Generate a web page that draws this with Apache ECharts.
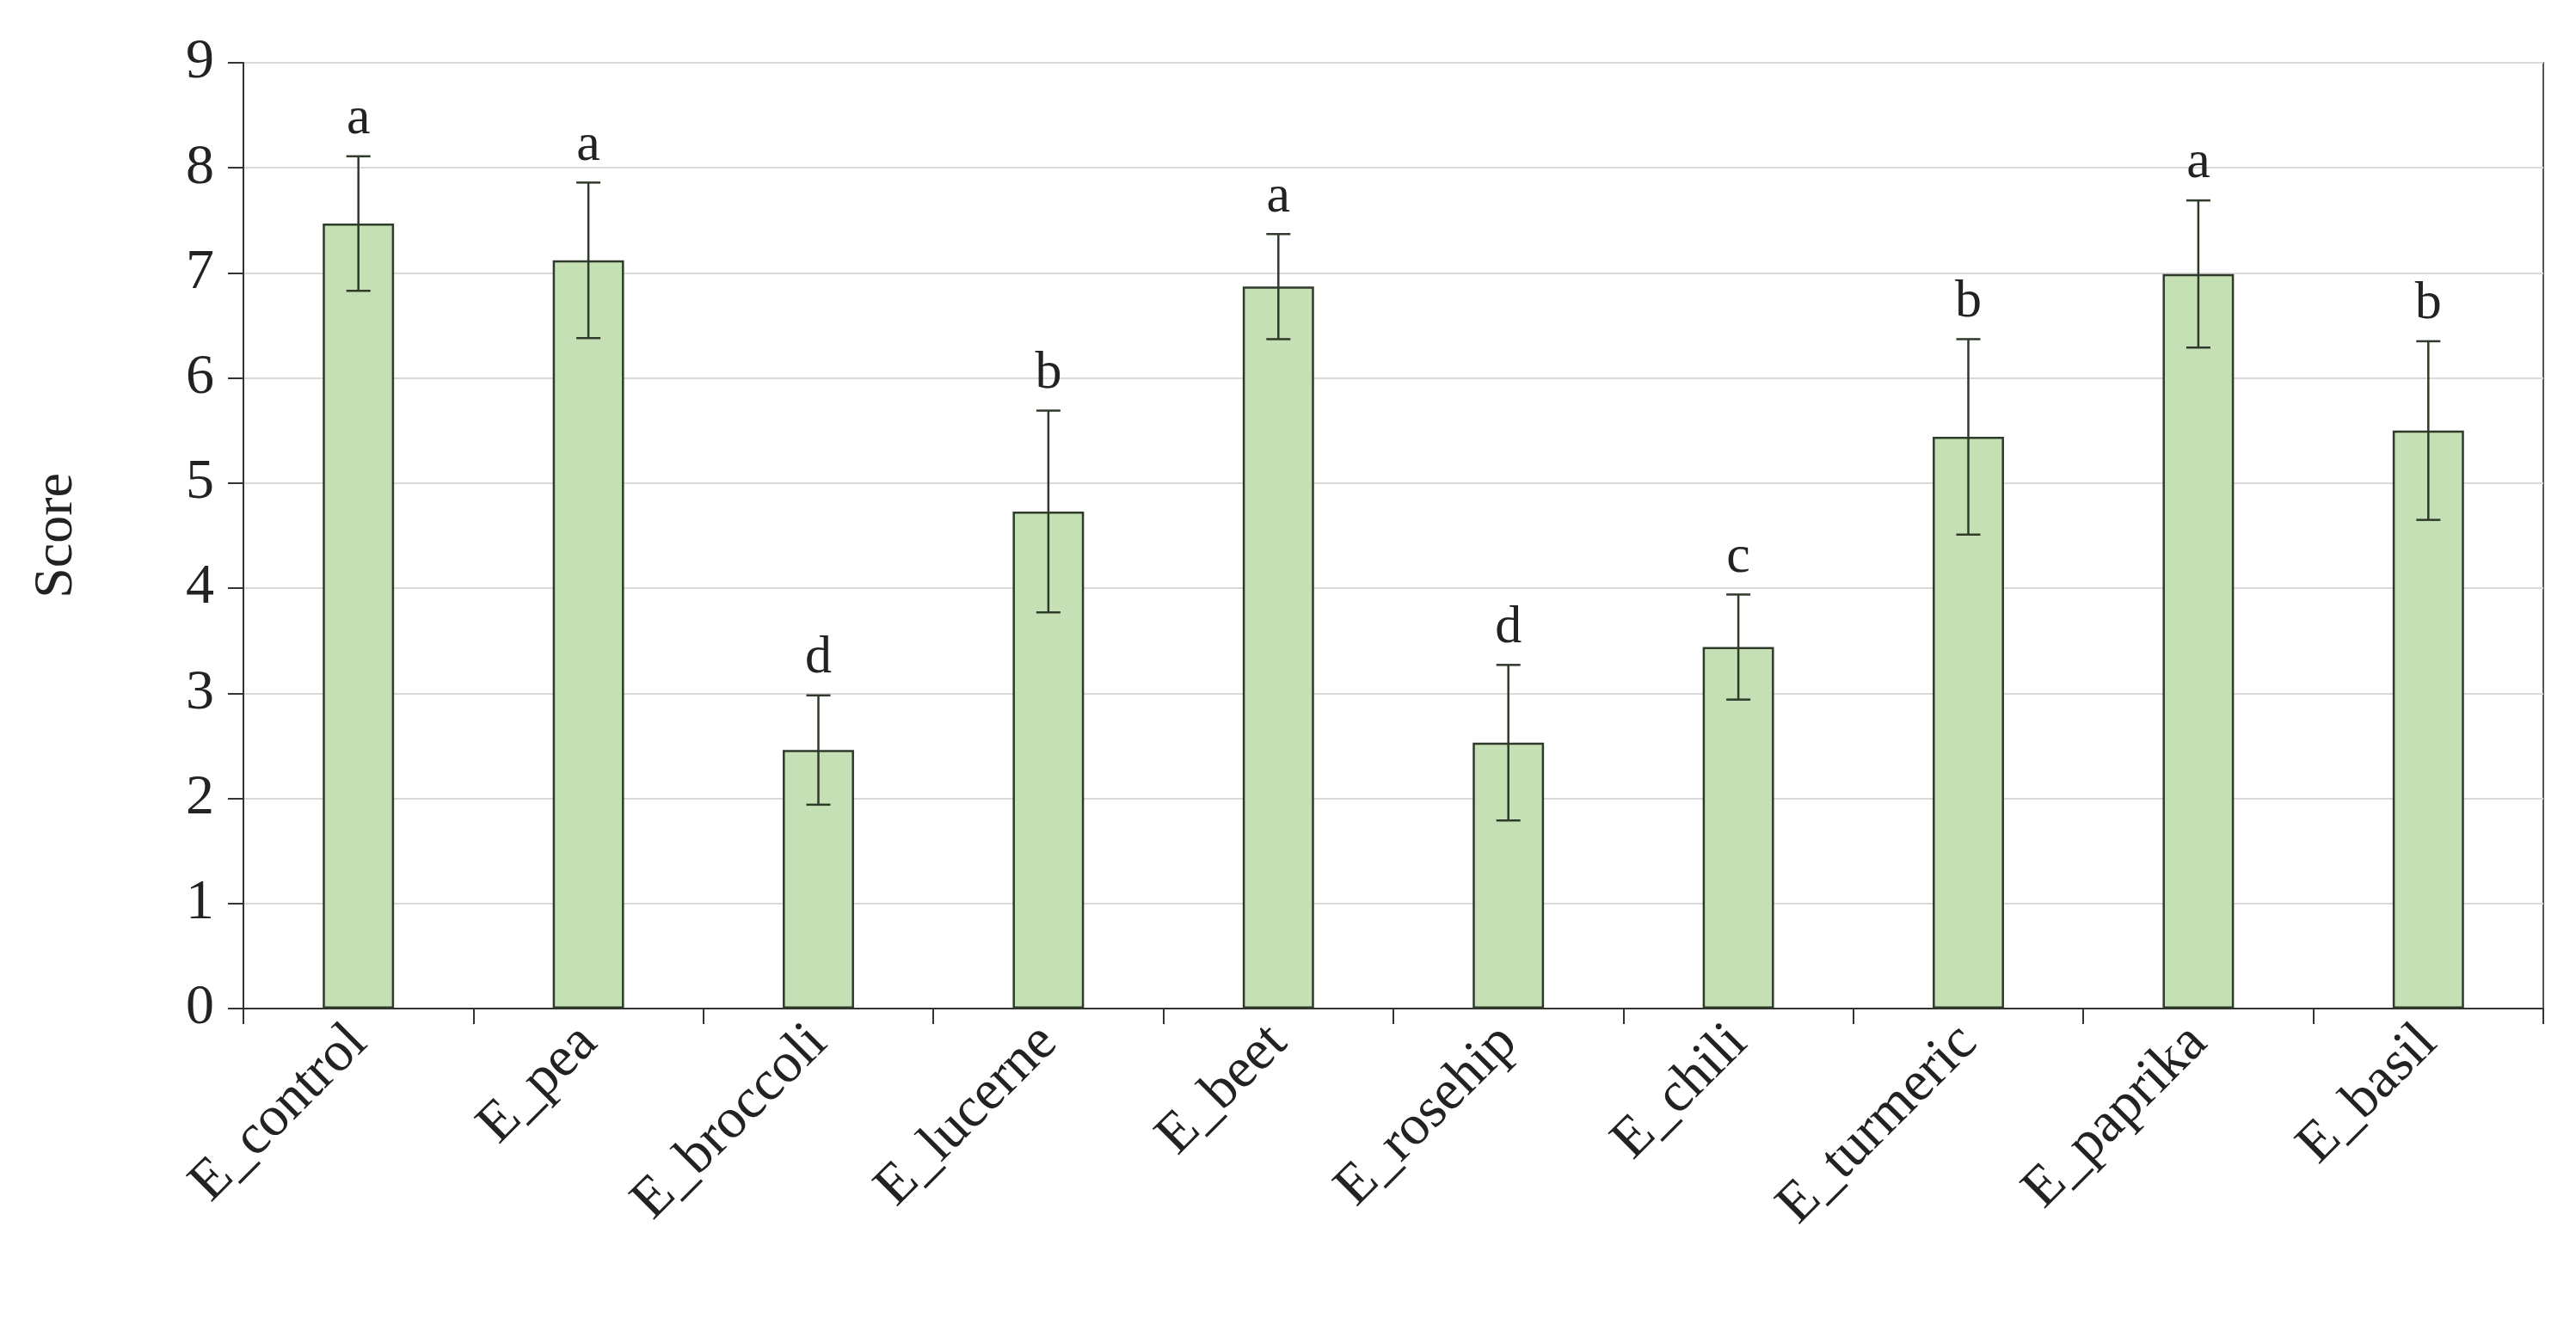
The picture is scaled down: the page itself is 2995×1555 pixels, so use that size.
<!DOCTYPE html>
<html><head><meta charset="utf-8">
<script src="https://cdn.jsdelivr.net/npm/echarts@6/dist/echarts.min.js"></script>
<style>html,body{margin:0;background:#fff}#c{width:2995px;height:1555px}</style>
</head><body><div id="c"></div>
<script>
var categories = ['E_control','E_pea','E_broccoli','E_lucerne','E_beet','E_rosehip','E_chili','E_turmeric','E_paprika','E_basil'];
var scores = [7.47, 7.12, 2.46, 4.73, 6.87, 2.53, 3.44, 5.44, 6.99, 5.5];
var errors = [0.64, 0.74, 0.52, 0.96, 0.5, 0.74, 0.5, 0.93, 0.7, 0.85];
var letters = ['a','a','d','b','a','d','c','b','a','b'];
var yTicks = [0, 1, 2, 3, 4, 5, 6, 7, 8, 9];

var font = 'Liberation Serif';
var chart = echarts.init(document.getElementById('c'));
chart.setOption({
  animation: false,
  grid: {left: 283, right: 38, top: 73, bottom: 382, show: true, borderColor: '#555', borderWidth: 2},
  xAxis: {
    type: 'category', data: categories,
    axisLine: {lineStyle: {color: '#333', width: 2}},
    axisTick: {show: true, length: 18, lineStyle: {color: '#333', width: 2}},
    axisLabel: {rotate: 45, fontFamily: font, fontSize: 66, color: '#222', margin: 30}
  },
  yAxis: {
    type: 'value', min: yTicks[0], max: yTicks[yTicks.length - 1], interval: 1,
    name: 'Score', nameLocation: 'middle', nameGap: 185,
    nameTextStyle: {fontFamily: font, fontSize: 64, color: '#222'},
    axisLine: {show: true, lineStyle: {color: '#333', width: 2}},
    axisTick: {show: true, length: 18, inside: false, lineStyle: {color: '#333', width: 2}},
    axisLabel: {fontFamily: font, fontSize: 66, color: '#222', margin: 34},
    splitLine: {lineStyle: {color: '#d9d9d9', width: 2}}
  },
  series: [{
    type: 'bar', data: scores, barWidth: '31%',
    itemStyle: {color: '#c5e0b4', borderColor: '#2f3a2b', borderWidth: 2.5}
  }, {
    type: 'custom',
    data: scores.map(function (v, i) { return [i, v, errors[i], letters[i]]; }),
    renderItem: function (params, api) {
      var x = api.value(0), v = api.value(1), e = api.value(2);
      var hi = api.coord([x, v + e]), lo = api.coord([x, v - e]);
      var w = 14;
      var st = {stroke: '#2f3a2b', lineWidth: 2.5};
      return {type: 'group', children: [
        {type: 'line', shape: {x1: hi[0], y1: hi[1], x2: lo[0], y2: lo[1]}, style: st},
        {type: 'line', shape: {x1: hi[0] - w, y1: hi[1], x2: hi[0] + w, y2: hi[1]}, style: st},
        {type: 'line', shape: {x1: lo[0] - w, y1: lo[1], x2: lo[0] + w, y2: lo[1]}, style: st},
        {type: 'text', x: hi[0], y: hi[1] - 12, style: {text: letters[params.dataIndex], fontFamily: font, fontSize: 62, fill: '#222', align: 'center', verticalAlign: 'bottom'}}
      ]};
    },
    z: 5
  }]
});
</script></body></html>
